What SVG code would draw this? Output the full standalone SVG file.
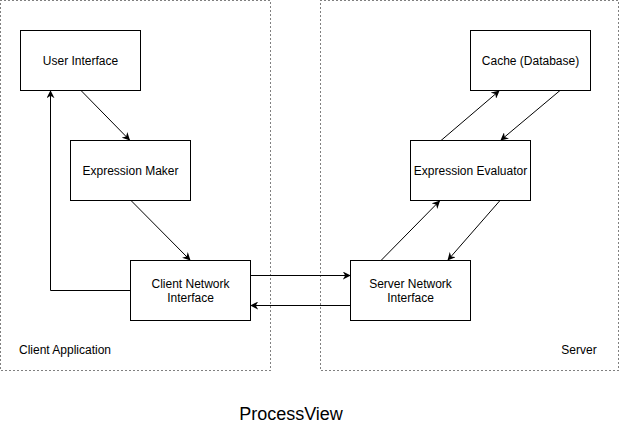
<svg xmlns="http://www.w3.org/2000/svg" width="623" height="432" viewBox="0 0 623 432">
<style>
.box{fill:#fff;stroke:#000;stroke-width:1}
.cont{fill:none;stroke:#000;stroke-width:1;stroke-dasharray:1 3}
.t{font-family:"Liberation Sans",Arial,sans-serif;font-size:12px;fill:#000;text-anchor:middle}
.e{fill:none;stroke:#000;stroke-width:1}
</style>
<defs>
<marker id="a" viewBox="0 0 10 10" refX="9" refY="5" markerWidth="8" markerHeight="8" markerUnits="userSpaceOnUse" orient="auto">
<path d="M0,0 L10,5 L0,10 L3,5 Z" fill="#000"/>
</marker>
</defs>
<rect width="623" height="432" fill="#fff"/>
<g id="client-app">
<rect class="cont" x="0.5" y="0.5" width="270" height="370"/>
<text class="t" x="65" y="354">Client Application</text>
</g>
<g id="server">
<rect class="cont" x="320.5" y="0.5" width="298" height="370"/>
<text class="t" x="579" y="354">Server</text>
</g>
<g id="user-interface">
<rect class="box" x="20.5" y="30.5" width="120" height="60"/>
<text class="t" x="80.5" y="64.5">User Interface</text>
</g>
<g id="expression-maker">
<rect class="box" x="70.5" y="140.5" width="120" height="60"/>
<text class="t" x="130.5" y="174.5">Expression Maker</text>
</g>
<g id="client-network-interface">
<rect class="box" x="130.5" y="260.5" width="120" height="60"/>
<text class="t" x="190.5" y="287.5">Client Network</text>
<text class="t" x="190.5" y="301.5">Interface</text>
</g>
<g id="cache">
<rect class="box" x="470.5" y="30.5" width="120" height="60"/>
<text class="t" x="530.5" y="64.5">Cache (Database)</text>
</g>
<g id="expression-evaluator">
<rect class="box" x="410.5" y="140.5" width="120" height="60"/>
<text class="t" x="470.5" y="174.5">Expression Evaluator</text>
</g>
<g id="server-network-interface">
<rect class="box" x="350.5" y="260.5" width="120" height="60"/>
<text class="t" x="410.5" y="287.5">Server Network</text>
<text class="t" x="410.5" y="301.5">Interface</text>
</g>
<g id="connectors">
<line class="e" x1="81" y1="90.5" x2="129.5" y2="140" marker-end="url(#a)"/>
<line class="e" x1="131" y1="200.5" x2="190" y2="260" marker-end="url(#a)"/>
<polyline class="e" points="130.5,290.5 50.5,290.5 50.5,91" marker-end="url(#a)"/>
<line class="e" x1="250.5" y1="275.5" x2="350" y2="275.5" marker-end="url(#a)"/>
<line class="e" x1="350.5" y1="305.5" x2="251" y2="305.5" marker-end="url(#a)"/>
<line class="e" x1="381" y1="260.5" x2="439.5" y2="201" marker-end="url(#a)"/>
<line class="e" x1="500" y1="200.5" x2="448" y2="260" marker-end="url(#a)"/>
<line class="e" x1="441" y1="140.5" x2="499" y2="91" marker-end="url(#a)"/>
<line class="e" x1="560" y1="90.5" x2="501" y2="140" marker-end="url(#a)"/>
</g>
<text x="291" y="420" font-family="'Liberation Sans',Arial,sans-serif" font-size="18" text-anchor="middle" fill="#000">ProcessView</text>
</svg>
